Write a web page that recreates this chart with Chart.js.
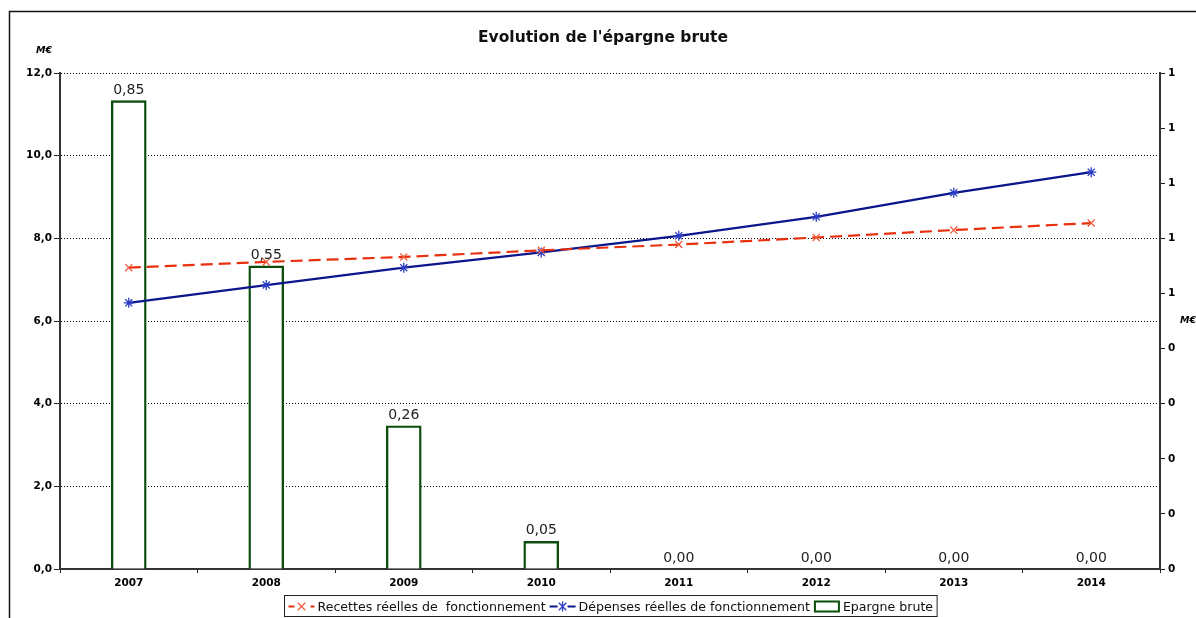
<!DOCTYPE html>
<html lang="fr">
<head>
  <meta charset="UTF-8">
  <title>Evolution de l'épargne brute</title>
  <script src="https://cdn.jsdelivr.net/npm/chart.js"></script>
  <style>
    body {
      margin: 0;
      background-color: #ffffff;
    }
    canvas {
      display: block;
    }
  </style>
</head>
<body>
  <canvas id="chart" width="1196" height="618"></canvas>

  <script>
    // données (M€)
    const annees = ['2007', '2008', '2009', '2010', '2011', '2012', '2013', '2014'];
    const recettes = [7.29, 7.43, 7.55, 7.71, 7.85, 8.02, 8.20, 8.37];
    const depenses = [6.44, 6.87, 7.29, 7.66, 8.06, 8.52, 9.10, 9.60];
    const epargne = [0.85, 0.55, 0.26, 0.05, 0, 0, 0, 0];

    const legendeRecettes = 'Recettes réelles de  fonctionnement';
    const legendeDepenses = 'Dépenses réelles de fonctionnement';
    const legendeEpargne = 'Epargne brute';

    const tickFont = { family: '"DejaVu Sans", sans-serif', size: 10.5, weight: 'bold' };

    // cadre, unités et légende dessinés à la main
    const decorPlugin = {
      id: 'decor',
      beforeDraw(chart) {
        const ctx = chart.ctx;
        ctx.save();
        ctx.fillStyle = '#fff';
        ctx.fillRect(0, 0, chart.width, chart.height);
        ctx.strokeStyle = '#111';
        ctx.lineWidth = 1.5;
        ctx.strokeRect(9.5, 11.5, 1400, 1000);
        ctx.restore();
      },
      afterDraw(chart) {
        const ctx = chart.ctx;
        const area = chart.chartArea;
        ctx.save();
        ctx.fillStyle = '#000';
        ctx.font = 'italic bold 9.5px "DejaVu Sans", sans-serif';
        ctx.textBaseline = 'middle';
        ctx.textAlign = 'left';
        ctx.fillText('M€', 36, 51);
        ctx.fillText('M€', 1180, 321);

        // légende
        ctx.font = '12.6px "DejaVu Sans", sans-serif';
        const ds = chart.data.datasets;
        const symW = 26;
        let total = 4;
        const widths = ds.map(d => ctx.measureText(d.label).width);
        widths.forEach(w => { total += symW + 3 + w + 4; });
        const boxH = 21;
        const boxTop = 595;
        let x = Math.round((area.left + area.right) / 2 - total / 2) + 0.5;
        ctx.strokeStyle = '#222';
        ctx.lineWidth = 1;
        ctx.strokeRect(x, boxTop + 0.5, total, boxH);
        const cy = boxTop + boxH / 2 + 1;
        x += 4;
        ds.forEach((d, i) => {
          ctx.save();
          if (d.type === 'line') {
            ctx.strokeStyle = d.borderColor;
            ctx.lineWidth = 2;
            ctx.setLineDash(d.borderDash ? [6, 5] : []);
            ctx.beginPath();
            ctx.moveTo(x, cy);
            ctx.lineTo(x + symW, cy);
            ctx.stroke();
            ctx.setLineDash([]);
            const r = d.pointRadius;
            const mx = x + symW / 2;
            ctx.fillStyle = '#fff';
            ctx.fillRect(mx - r, cy - r, r * 2, r * 2);
            ctx.strokeStyle = d.pointBorderColor;
            ctx.lineWidth = d.pointBorderWidth;
            ctx.beginPath();
            ctx.moveTo(mx - r * 0.75, cy - r * 0.75); ctx.lineTo(mx + r * 0.75, cy + r * 0.75);
            ctx.moveTo(mx - r * 0.75, cy + r * 0.75); ctx.lineTo(mx + r * 0.75, cy - r * 0.75);
            if (d.pointStyle === 'star') {
              ctx.moveTo(mx, cy - r); ctx.lineTo(mx, cy + r);
            }
            ctx.stroke();
          } else {
            ctx.strokeStyle = d.borderColor;
            ctx.lineWidth = 2;
            ctx.strokeRect(x + 1, cy - 5, symW - 2, 10);
          }
          ctx.restore();
          ctx.fillStyle = '#111';
          ctx.textBaseline = 'middle';
          ctx.fillText(d.label, x + symW + 3, cy + 1);
          x += symW + 3 + widths[i] + 4;
        });
        ctx.restore();
      },
      afterDatasetsDraw(chart) {
        // étiquettes de valeur au-dessus des barres
        const ctx = chart.ctx;
        const meta = chart.getDatasetMeta(2);
        ctx.save();
        ctx.fillStyle = '#222';
        ctx.font = '14px "DejaVu Sans", sans-serif';
        ctx.textAlign = 'center';
        ctx.textBaseline = 'alphabetic';
        meta.data.forEach((bar, i) => {
          const txt = epargne[i].toFixed(2).replace('.', ',');
          ctx.fillText(txt, bar.x, bar.y - 7);
        });
        ctx.restore();
      }
    };

    new Chart(document.getElementById('chart'), {
      type: 'bar',
      data: {
        labels: annees,
        datasets: [
          {
            type: 'line',
            label: legendeRecettes,
            data: recettes,
            yAxisID: 'y',
            order: 1,
            borderColor: '#e8300f',
            borderWidth: 2.2,
            borderDash: [12, 6],
            pointStyle: 'crossRot',
            pointRadius: 5,
            pointBorderColor: '#f25a3c',
            pointBorderWidth: 1.3,
            pointBackgroundColor: 'transparent',
            tension: 0
          },
          {
            type: 'line',
            label: legendeDepenses,
            data: depenses,
            yAxisID: 'y',
            order: 2,
            borderColor: '#0a168c',
            borderWidth: 2.2,
            pointStyle: 'star',
            pointRadius: 5,
            pointBorderColor: '#2b3cc4',
            pointBorderWidth: 1.3,
            pointBackgroundColor: 'transparent',
            tension: 0
          },
          {
            type: 'bar',
            label: legendeEpargne,
            data: epargne,
            yAxisID: 'y1',
            order: 3,
            backgroundColor: '#ffffff',
            borderColor: '#0b4d0b',
            borderWidth: 2.4,
            barThickness: 35
          }
        ]
      },
      options: {
        responsive: false,
        animation: false,
        layout: {
          padding: { left: 10, right: 0, top: 12, bottom: 23 }
        },
        plugins: {
          legend: { display: false },
          tooltip: { enabled: false },
          title: {
            display: true,
            text: "Evolution de l'épargne brute",
            color: '#111',
            font: { family: '"DejaVu Sans", sans-serif', size: 15.5, weight: 'bold' },
            padding: { top: 17, bottom: 25.4 }
          }
        },
        scales: {
          x: {
            offset: true,
            afterFit(scale) { scale.height = 26; },
            grid: {
              offset: true,
              drawOnChartArea: false,
              drawTicks: true,
              tickLength: 4,
              tickColor: '#222',
              tickWidth: 1
            },
            border: { display: true, color: '#333', width: 2 },
            ticks: {
              color: '#000',
              font: tickFont,
              padding: 4,
              maxRotation: 0
            }
          },
          y: {
            position: 'left',
            min: 0,
            max: 12,
            afterFit(scale) { scale.width = 50; },
            grid: {
              color: '#000',
              lineWidth: 1,
              drawTicks: true,
              tickLength: 6,
              tickColor: '#222',
              tickBorderDash: []
            },
            border: { display: true, color: '#333', width: 2, dash: [1, 2] },
            ticks: {
              stepSize: 2,
              color: '#000',
              padding: 2,
              font: tickFont,
              callback: v => v.toFixed(1).replace('.', ',')
            }
          },
          y1: {
            position: 'right',
            min: 0,
            max: 0.9,
            afterFit(scale) { scale.width = 36; },
            grid: {
              drawOnChartArea: false,
              drawTicks: true,
              tickLength: 5,
              tickColor: '#222'
            },
            border: { display: true, color: '#333', width: 2 },
            ticks: {
              stepSize: 0.1,
              color: '#000',
              padding: 3,
              font: tickFont,
              callback: v => String(Math.round(v + 1e-9))
            }
          }
        }
      },
      plugins: [decorPlugin]
    });
  </script>
</body>
</html>
